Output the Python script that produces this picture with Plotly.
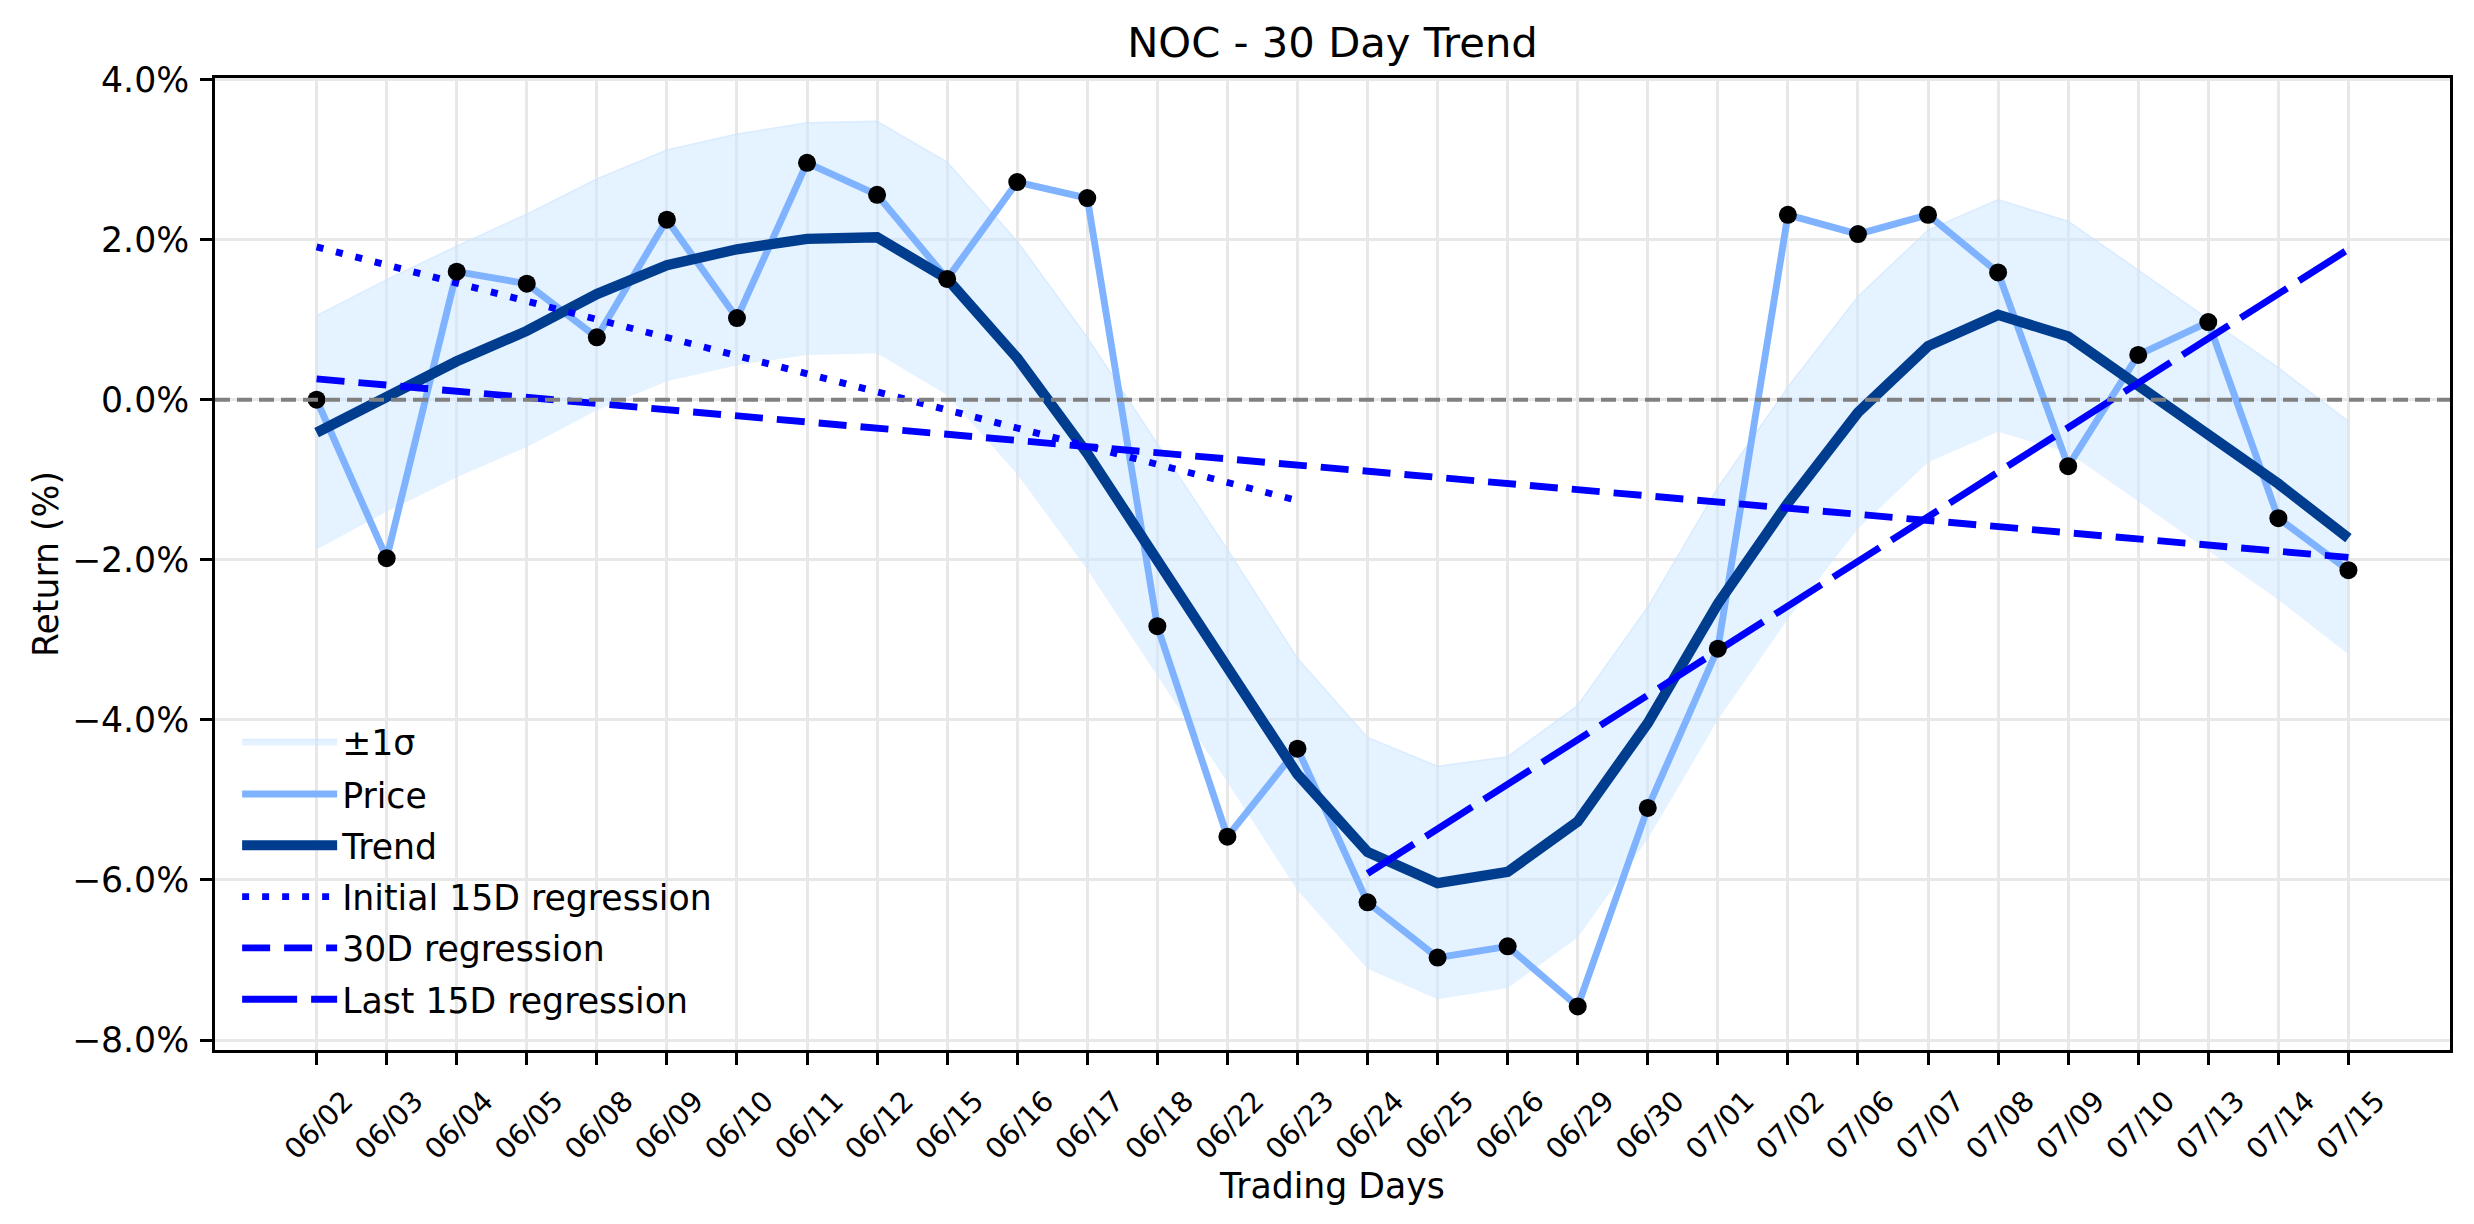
import plotly.graph_objects as go

# ---------------- data ----------------
dates = ["06/02", "06/03", "06/04", "06/05", "06/08", "06/09", "06/10", "06/11",
         "06/12", "06/15", "06/16", "06/17", "06/18", "06/22", "06/23", "06/24",
         "06/25", "06/26", "06/29", "06/30", "07/01", "07/02", "07/06", "07/07",
         "07/08", "07/09", "07/10", "07/13", "07/14", "07/15"]

price = [0.00, -1.98, 1.60, 1.45, 0.78, 2.25, 1.02, 2.96, 2.56, 1.51,
         2.72, 2.52, -2.83, -5.46, -4.36, -6.28, -6.97, -6.83, -7.58, -5.10,
         -3.11, 2.31, 2.07, 2.31, 1.59, -0.83, 0.56, 0.97, -1.48, -2.13]

trend = [-0.41, 0.05, 0.48, 0.86, 1.32, 1.68, 1.88, 2.01, 2.03, 1.51,
         0.52, -0.67, -2.00, -3.33, -4.68, -5.65, -6.04, -5.90, -5.27, -4.04,
         -2.55, -1.29, -0.16, 0.67, 1.06, 0.79, 0.18, -0.44, -1.05, -1.73]

band_upper = [1.05, 1.50, 1.92, 2.32, 2.76, 3.12, 3.32, 3.46, 3.48, 2.97,
              1.98, 0.78, -0.55, -1.87, -3.23, -4.22, -4.58, -4.46, -3.82, -2.59,
              -1.10, 0.16, 1.29, 2.12, 2.50, 2.23, 1.62, 1.01, 0.40, -0.27]

band_lower = [-1.87, -1.40, -0.97, -0.59, -0.13, 0.23, 0.43, 0.56, 0.58, 0.06,
              -0.93, -2.12, -3.45, -4.78, -6.13, -7.11, -7.49, -7.35, -6.72, -5.49,
              -4.00, -2.74, -1.61, -0.78, -0.40, -0.66, -1.27, -1.89, -2.50, -3.18]

# regression lines: (start index, end index), (start value, end value)
init15_x = [0, 14]
init15_y = [1.91, -1.26]
reg30_x = [0, 29]
reg30_y = [0.26, -1.97]
last15_x = [15, 29]
last15_y = [-5.92, 1.88]

y_ticks = [-8, -6, -4, -2, 0, 2, 4]
y_ticktext = ["\u22128.0%", "\u22126.0%", "\u22124.0%", "\u22122.0%", "0.0%", "2.0%", "4.0%"]

idx = list(range(len(dates)))

FONT = "DejaVu Sans"
BLUE = "#0000ff"

fig = go.Figure()

fig.add_trace(go.Scatter(x=idx, y=band_lower, mode="lines",
                         line=dict(width=0, color="rgba(204,229,255,0.5)"),
                         showlegend=False, hoverinfo="skip"))
fig.add_trace(go.Scatter(x=idx, y=band_upper, mode="lines", fill="tonexty",
                         fillcolor="rgba(204,229,255,0.5)",
                         line=dict(width=1.5, color="rgba(204,229,255,0.6)"),
                         name="\u00b11\u03c3", legend="legend"))
fig.add_trace(go.Scatter(x=idx, y=price, mode="lines",
                         line=dict(color="#7fb3ff", width=6.9),
                         name="Price", legend="legend2", legendgroup="price"))
fig.add_trace(go.Scatter(x=idx, y=trend, mode="lines",
                         line=dict(color="#003d8f", width=10.4),
                         name="Trend", legend="legend2", legendgroup="trend"))
fig.add_trace(go.Scatter(x=init15_x, y=init15_y, mode="lines",
                         line=dict(color=BLUE, width=6.9, dash="7px,13px"),
                         name="Initial 15D regression", legend="legend2", legendgroup="init"))
fig.add_trace(go.Scatter(x=reg30_x, y=reg30_y, mode="lines",
                         line=dict(color=BLUE, width=6.9, dash="28px,14px"),
                         name="30D regression", legend="legend2", legendgroup="r30"))
fig.add_trace(go.Scatter(x=last15_x, y=last15_y, mode="lines",
                         line=dict(color=BLUE, width=6.9, dash="55px,14px"),
                         name="Last 15D regression", legend="legend2", legendgroup="last"))
fig.add_trace(go.Scatter(x=idx, y=price, mode="markers",
                         marker=dict(color="black", size=18),
                         showlegend=False, hoverinfo="skip"))

fig.add_shape(type="line", xref="paper", x0=0, x1=1, yref="y", y0=0, y1=0,
              line=dict(color="#808080", width=4, dash="15px,7px"), layer="above")

axis_common = dict(
    showline=True, linecolor="black", linewidth=2.8, mirror=True,
    ticks="outside", ticklen=12, tickwidth=2.8, tickcolor="black",
    showgrid=True, gridcolor="#e8e8e8", gridwidth=2.8, zeroline=False,
)

legend_common = dict(
    x=0.0099, xanchor="left", yanchor="top",
    bgcolor="rgba(0,0,0,0)", borderwidth=0,
    font=dict(family=FONT, size=34.7, color="black"),
    itemwidth=95,
)

fig.update_layout(
    width=2474, height=1224,
    margin=dict(l=215, r=24, t=78, b=174, pad=0),
    paper_bgcolor="white", plot_bgcolor="white",
    font=dict(family=FONT, color="black", size=34.7),
    title=dict(text="NOC - 30 Day Trend", x=0.5, xref="paper", xanchor="center",
               y=1 - 42 / 1224, yref="container", yanchor="middle",
               font=dict(family=FONT, size=41.7, color="black")),
    xaxis=dict(range=[-1.45, 30.45], tickvals=idx, ticktext=dates, tickangle=-45,
               tickfont=dict(family=FONT, size=28.5, color="black"),
               ticklabelshift=28, ticklabelstandoff=8,
               title=dict(text="Trading Days", font=dict(family=FONT, size=34.7), standoff=8),
               **axis_common),
    yaxis=dict(range=[-8.125, 4.02], tickvals=y_ticks, ticktext=y_ticktext,
               tickfont=dict(family=FONT, size=34.7, color="black"),
               ticklabelstandoff=4,
               title=dict(text="Return (%)", font=dict(family=FONT, size=34.7), standoff=3),
               **axis_common),
    legend=dict(y=0.3473, **legend_common),
    legend2=dict(y=0.2933, traceorder="grouped", tracegroupgap=3.2, **legend_common),
    showlegend=True,
)

fig.write_html("out.html")
